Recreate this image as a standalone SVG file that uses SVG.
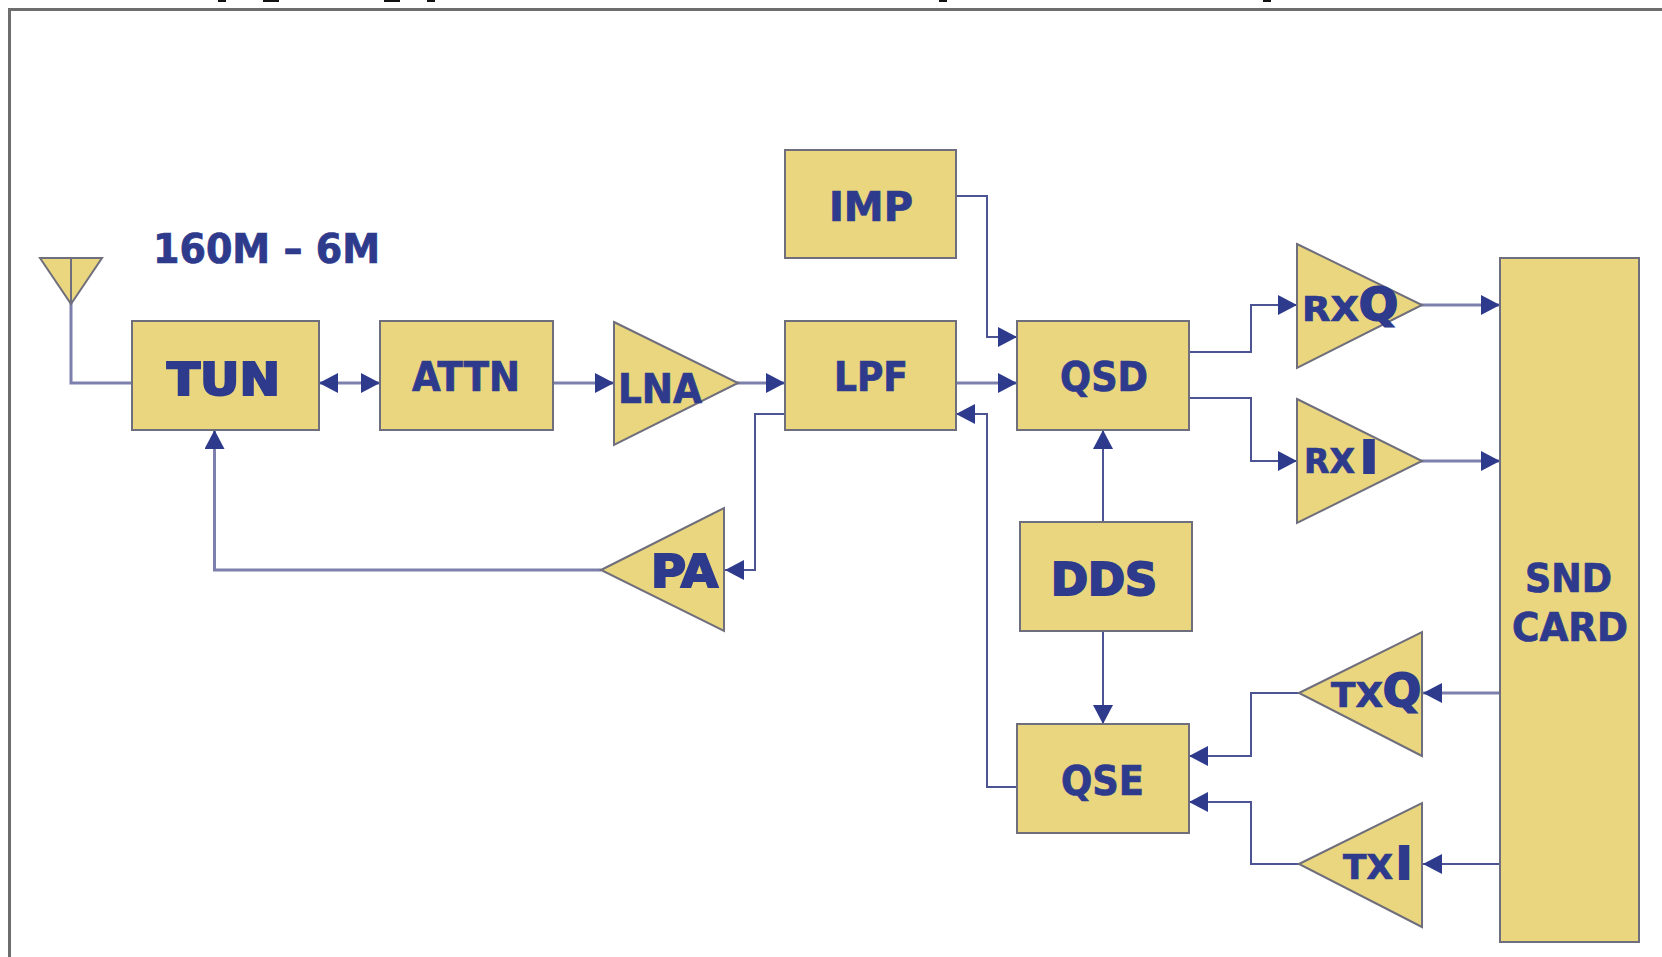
<svg xmlns="http://www.w3.org/2000/svg" width="1662" height="957" viewBox="0 0 1662 957">
<style>
.n{fill:#e9d67e;stroke:#6f6e7c;stroke-width:2}
.c{fill:none;stroke:#7d80ac;stroke-width:3}
.d{fill:none;stroke:#4d5494;stroke-width:2}
.t{font-family:"DejaVu Sans",sans-serif;font-weight:700;fill:#2e3a8c;font-stretch:condensed;stroke:#2e3a8c;stroke-width:.7}
.h{stroke-width:2}
.m{fill:#111}
</style>
<defs>
<marker id="a" markerUnits="userSpaceOnUse" markerWidth="19" markerHeight="20" refX="19" refY="10" orient="auto-start-reverse"><path d="M0 0L19 10L0 20Z" fill="#2e3a8c"/></marker>
</defs>
<rect width="1662" height="957" fill="#fff"/>
<g id="clipped-marks"><rect class="m" x="218" y="0" width="8" height="2"/><rect class="m" x="263" y="0" width="16" height="2"/><rect class="m" x="384" y="0" width="16" height="2"/><rect class="m" x="427" y="0" width="8" height="2"/><rect class="m" x="939" y="0" width="8" height="2"/><rect class="m" x="1263" y="0" width="8" height="2"/></g>
<path d="M9.500 957V9.500H1662" fill="none" stroke="#6d6d6d" stroke-width="3"/>
<g id="connectors">
<path class="c" d="M71 290V383H132"/>
<path class="c" d="M319 383H380" marker-start="url(#a)" marker-end="url(#a)"/>
<path class="c" d="M553 383H614" marker-end="url(#a)"/>
<path class="c" d="M736 383H785" marker-end="url(#a)"/>
<path class="c" d="M956 383H1017" marker-end="url(#a)"/>
<path class="d" d="M956 196H987V337H1017" marker-end="url(#a)"/>
<path class="d" d="M1189 352H1251V305H1297" marker-end="url(#a)"/>
<path class="d" d="M1189 398H1251V461H1297" marker-end="url(#a)"/>
<path class="c" d="M1420 305H1500" marker-end="url(#a)"/>
<path class="c" d="M1420 461H1500" marker-end="url(#a)"/>
<path class="d" d="M1103 522V430" marker-end="url(#a)"/>
<path class="d" d="M1103 631V724" marker-end="url(#a)"/>
<path class="d" d="M1017 787H987V414H956" marker-end="url(#a)"/>
<path class="d" d="M1299 693H1251V756H1189" marker-end="url(#a)"/>
<path class="d" d="M1299 864H1251V802H1189" marker-end="url(#a)"/>
<path class="c" d="M1500 693H1423" marker-end="url(#a)"/>
<path class="d" d="M1500 864H1423" marker-end="url(#a)"/>
<path class="d" d="M785 414H755V570H725" marker-end="url(#a)"/>
<path class="c" d="M601 570H214.500V430" marker-end="url(#a)"/>
</g>
<g id="antenna"><path class="n" d="M40 258H102L71 304Z"/><path class="n" d="M71 258V304"/></g>
<g id="band"><text class="t" x="153" y="263" font-size="41" textLength="227" lengthAdjust="spacingAndGlyphs">160M – 6M</text></g>
<g id="tun"><rect class="n" x="132" y="321" width="187" height="109"/><text class="t h" x="167" y="395" font-size="45" textLength="113" lengthAdjust="spacingAndGlyphs">TUN</text></g>
<g id="attn"><rect class="n" x="380" y="321" width="173" height="109"/><text class="t" x="412" y="391" font-size="40" textLength="108" lengthAdjust="spacingAndGlyphs">ATTN</text></g>
<g id="lna"><path class="n" d="M614 322L738 383L614 445Z"/><text class="t" x="618" y="403" font-size="41" textLength="84" lengthAdjust="spacingAndGlyphs">LNA</text></g>
<g id="lpf"><rect class="n" x="785" y="321" width="171" height="109"/><text class="t" x="834" y="391" font-size="40" textLength="74" lengthAdjust="spacingAndGlyphs">LPF</text></g>
<g id="imp"><rect class="n" x="785" y="150" width="171" height="108"/><text class="t" x="829" y="221" font-size="40" textLength="84" lengthAdjust="spacingAndGlyphs">IMP</text></g>
<g id="qsd"><rect class="n" x="1017" y="321" width="172" height="109"/><text class="t" x="1060" y="391" font-size="40" textLength="88" lengthAdjust="spacingAndGlyphs">QSD</text></g>
<g id="rxq"><path class="n" d="M1297 244L1422 305L1297 368Z"/><text class="t" x="1302" y="321" font-size="34" textLength="57" lengthAdjust="spacingAndGlyphs">RX</text><text class="t h" x="1359" y="320" font-size="45" textLength="39" lengthAdjust="spacingAndGlyphs">Q</text></g>
<g id="rxi"><path class="n" d="M1297 399L1422 461L1297 523Z"/><text class="t" x="1304" y="473" font-size="34" textLength="51" lengthAdjust="spacingAndGlyphs">RX</text><text class="t h" x="1360" y="473" font-size="45" textLength="18" lengthAdjust="spacingAndGlyphs">I</text></g>
<g id="dds"><rect class="n" x="1020" y="522" width="172" height="109"/><text class="t h" x="1051" y="595" font-size="45" textLength="106" lengthAdjust="spacingAndGlyphs">DDS</text></g>
<g id="qse"><rect class="n" x="1017" y="724" width="172" height="109"/><text class="t" x="1061" y="795" font-size="40" textLength="83" lengthAdjust="spacingAndGlyphs">QSE</text></g>
<g id="txq"><path class="n" d="M1299 693L1422 632V756Z"/><text class="t" x="1331" y="707" font-size="34" textLength="52" lengthAdjust="spacingAndGlyphs">TX</text><text class="t h" x="1383" y="706" font-size="45" textLength="38" lengthAdjust="spacingAndGlyphs">Q</text></g>
<g id="txi"><path class="n" d="M1299 864L1422 803V927Z"/><text class="t" x="1343" y="879" font-size="34" textLength="50" lengthAdjust="spacingAndGlyphs">TX</text><text class="t h" x="1396" y="879" font-size="45" textLength="16" lengthAdjust="spacingAndGlyphs">I</text></g>
<g id="pa"><path class="n" d="M601 570L724 508V631Z"/><text class="t h" x="651" y="587" font-size="45" textLength="67" lengthAdjust="spacingAndGlyphs">PA</text></g>
<g id="snd"><rect class="n" x="1500" y="258" width="139" height="684"/><text class="t" x="1525" y="592" font-size="39" textLength="87" lengthAdjust="spacingAndGlyphs">SND</text><text class="t" x="1512" y="641" font-size="39" textLength="116" lengthAdjust="spacingAndGlyphs">CARD</text></g>
</svg>
